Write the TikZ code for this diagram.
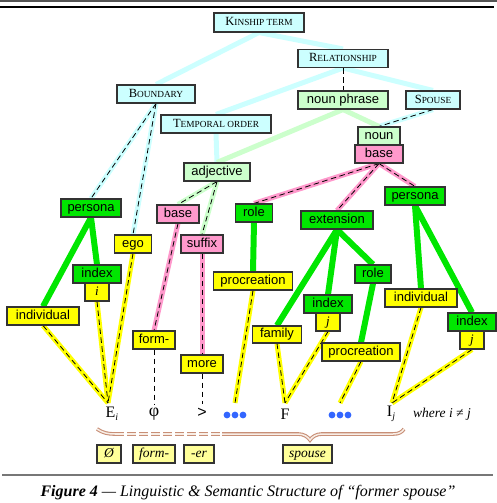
\documentclass[tikz,border=0pt]{standalone}
\usepackage{fontspec}
\setmainfont{Liberation Serif}
\setsansfont{Liberation Sans}
\usetikzlibrary{backgrounds}
\definecolor{boxline}{HTML}{333333}
\definecolor{cyanf}{HTML}{CCFFFF}
\definecolor{pgreenf}{HTML}{CCFFCC}
\definecolor{pinkf}{HTML}{FF99CC}
\definecolor{greenf}{HTML}{00E600}
\definecolor{yellowf}{HTML}{FFFF00}
\definecolor{pyellowf}{HTML}{FFFF99}
\definecolor{dotblue}{HTML}{3366FF}
\definecolor{bracebrown}{HTML}{C88F77}
\definecolor{braceinner}{HTML}{F8EEE6}
\definecolor{rulegray}{HTML}{555555}
\definecolor{rulegray2}{HTML}{777777}
\newcommand\fsc[2]{{\fontsize{12.5}{12.5}\selectfont #1}{\fontsize{9.3}{9.3}\selectfont #2}}
\begin{document}
\begin{tikzpicture}[x=1pt,y=-1pt,
  box/.style={draw=boxline, line width=1.1pt, inner sep=0pt, minimum height=18pt,
    font=\sffamily\fontsize{13}{13}\selectfont, text height=9.5pt, text depth=2.8pt},
  cy/.style={box, fill=cyanf, font=\rmfamily},
  pg/.style={box, fill=pgreenf},
  pk/.style={box, fill=pinkf},
  gr/.style={box, fill=greenf},
  ye/.style={box, fill=yellowf},
  yi/.style={box, fill=yellowf, font=\rmfamily\itshape\fontsize{13}{13}\selectfont},
  py/.style={box, fill=pyellowf, font=\rmfamily\itshape\fontsize{13.5}{13.5}\selectfont},
  sym/.style={inner sep=0pt, font=\rmfamily\fontsize{16}{16}\selectfont},
  colline/.style={line width=5pt},
  grline/.style={line width=6pt, draw=greenf},
  yline/.style={line width=5pt, draw=yellowf},
  dline/.style={line width=0.8pt, draw=black, dash pattern=on 5.5pt off 3.5pt},
  bracestyle/.style={draw=bracebrown, line width=1.1pt, double=braceinner, double distance=1.5pt}
]
\useasboundingbox (0,0) rectangle (497,503);
% rules
\fill[rulegray] (0,0) rectangle (497,2.3);
\draw[black, line width=1.2pt] (0,7) -- (494,7);
\draw[rulegray2, line width=2pt] (2,475) -- (493,475);

% nodes
\node[cy, minimum width=90pt, minimum height=19pt] (kin) at (259,22.5) {\fsc{K}{INSHIP TERM}};
\node[cy, minimum width=90pt] (rel) at (343,58.5) {\fsc{R}{ELATIONSHIP}};
\node[cy, minimum width=78pt] (bound) at (156,94) {\fsc{B}{OUNDARY}};
\node[pg, minimum width=90pt] (np) at (343,100) {noun phrase};
\node[cy, minimum width=54pt] (spouse) at (433,100) {\fsc{S}{POUSE}};
\node[cy, minimum width=110pt] (temp) at (216,124) {\fsc{T}{EMPORAL ORDER}};
\node[pg, minimum width=42pt] (noun) at (379,136) {noun};
\node[pk, minimum width=48pt] (base) at (379,154) {base};
\node[pg, minimum width=66pt] (adj) at (217,172) {adjective};
\node[gr, minimum width=60pt] (persona1) at (91,208) {persona};
\node[pk, minimum width=42pt] (base1) at (178,214) {base};
\node[gr, minimum width=37pt] (role1) at (254,213) {role};
\node[gr, minimum width=72pt] (ext) at (337,220) {extension};
\node[gr, minimum width=60pt] (persona2) at (415,196) {persona};
\node[ye, minimum width=37pt] (ego) at (133,244) {ego};
\node[pk, minimum width=42pt] (suffix) at (202,244) {suffix};
\node[gr, minimum width=48pt] (index1) at (97,274) {index};
\node[yi, minimum width=24pt] (i1) at (97,292) {i};
\node[ye, minimum width=79pt] (procr1) at (253,281) {procreation};
\node[gr, minimum width=36pt] (role2) at (373,274) {role};
\node[ye, minimum width=72pt] (indiv1) at (43,316) {individual};
\node[ye, minimum width=72pt] (indiv2) at (421,298) {individual};
\node[gr, minimum width=48pt] (index2) at (328,304) {index};
\node[yi, minimum width=24pt] (j2) at (328,322) {j};
\node[gr, minimum width=48pt] (index3) at (472,322) {index};
\node[yi, minimum width=24pt] (j3) at (472,340) {j};
\node[ye, minimum width=49pt, minimum height=17pt] (family) at (277,334.5) {family};
\node[ye, minimum width=78pt] (procr2) at (361,352) {procreation};
\node[ye, minimum width=42pt] (form) at (154,340) {form-};
\node[ye, minimum width=42pt] (more) at (202,364) {more};

% bottom row
\coordinate (pE) at (108,403);
\coordinate (pPhi) at (154,404);
\coordinate (pGt) at (202,404);
\coordinate (pD1) at (235,403);
\coordinate (pF) at (285,403);
\coordinate (pD2) at (340,403);
\coordinate (pI) at (392,403);

\node[sym] (Ei) at (112,414) {E\raisebox{-3pt}{\fontsize{10}{10}\selectfont\itshape i}};
\node[sym, font=\rmfamily\fontsize{18}{18}\selectfont] (phi) at (154,414) {φ};
\node[sym, font=\sffamily\fontsize{16}{16}\selectfont] (gt) at (202,413) {>};
\node[sym] (F) at (285,414) {F};
\node[sym] (Ij) at (391,414) {I\raisebox{-3pt}{\fontsize{10}{10}\selectfont\itshape j}};
\node[sym, font=\rmfamily\itshape\fontsize{13.5}{13.5}\selectfont] (where) at (442,414) {where i ≠ j};
\foreach \x in {227,235,243,332,340,348} \fill[dotblue] (\x,415) circle (3.4);

% brace
\draw[bracestyle] (97,429) .. controls (103,433) and (108,434) .. (115,434);
\draw[bracestyle, dash pattern=on 9pt off 3pt] (115,434) -- (222,434);
\draw[bracestyle] (222,434) -- (298,434) .. controls (304,434) and (308,437) .. (310,440)
   .. controls (312,437) and (316,434) .. (322,434) -- (393,434)
   .. controls (399,434) and (402,432) .. (404,429);

\node[py, minimum width=24pt] (lO) at (109,454) {Ø};
\node[py, minimum width=42pt] (lform) at (154,454) {form-};
\node[py, minimum width=30pt] (ler) at (199,454) {-er};
\node[py, minimum width=49pt] (lspouse) at (307.5,454) {spouse};

% caption
\node[font=\rmfamily\itshape\fontsize{16}{16}\selectfont] (cap) at (248,493)
  {\textbf{Figure 4} — Linguistic \& Semantic Structure of “former spouse”};

% connectors
\begin{scope}[on background layer]
\foreach \a/\b/\c in {kin/bound/cyanf, kin/rel/cyanf, rel/temp/cyanf, rel/spouse/cyanf,
   temp/adj/cyanf, spouse/noun/cyanf, bound/persona1/cyanf, bound/ego/cyanf,
   np/adj/pgreenf, np/noun/pgreenf, adj/base1/pgreenf, adj/suffix/pgreenf,
   base/role1/pinkf, base/ext/pinkf, base/persona2/pinkf, base1/form/pinkf, suffix/more/pinkf}
  \draw[colline, draw=\c] (\a.south) -- (\b.north);
\foreach \a/\b in {persona1/indiv1, persona1/index1, role1/procr1, ext/family, ext/index2,
   ext/role2, role2/procr2, persona2/indiv2, persona2/index3}
  \draw[grline] (\a.south) -- (\b.north);
\foreach \a/\b in {indiv1/pE, i1/pE, ego/pE, procr1/pD1, family/pF, j2/pF, procr2/pD2, indiv2/pI, j3/pI}
  \draw[yline] (\a.south) -- (\b);
\foreach \a/\b in {rel/np, spouse/noun, bound/persona1, bound/ego, adj/base1, adj/suffix,
   base/role1, base/ext, base/persona2, base1/form, suffix/more}
  \draw[dline] (\a.south) -- (\b.north);
\foreach \a/\b in {form/pPhi, more/pGt, indiv1/pE, i1/pE, ego/pE, procr1/pD1, family/pF,
   j2/pF, procr2/pD2, indiv2/pI, j3/pI}
  \draw[dline] (\a.south) -- (\b);
\end{scope}
\end{tikzpicture}
\end{document}
